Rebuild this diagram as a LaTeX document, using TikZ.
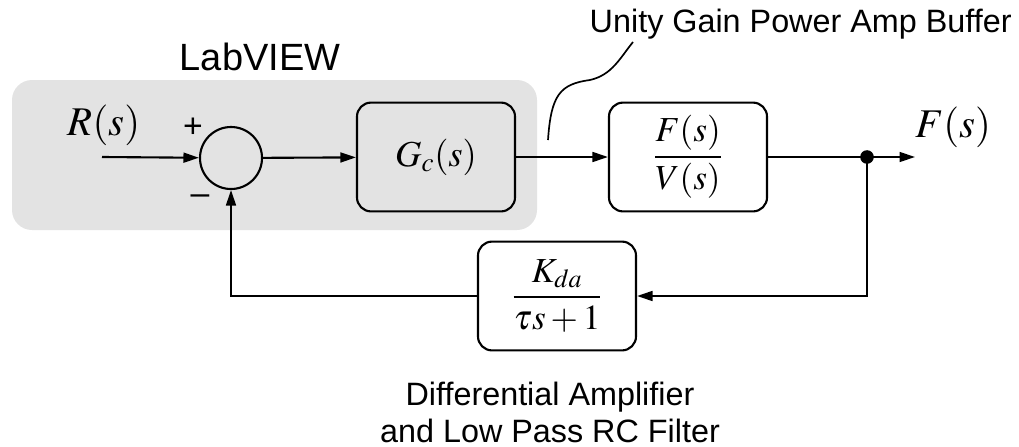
\documentclass[tikz,border=0pt]{standalone}
\usepackage{amsmath}
\usepackage{mathptmx}
\usepackage[no-math]{fontspec}
\setmainfont{Liberation Sans}
\usetikzlibrary{arrows.meta}

\newcommand{\sigsize}{\fontsize{29}{31}\selectfont}
\newcommand{\ctlsize}{\fontsize{26}{28}\selectfont}
\newcommand{\frsize}{\fontsize{25}{28}\selectfont}

\begin{document}
\begin{tikzpicture}[x=0.025cm,y=-0.025cm,line width=1.5pt,
  >={Triangle[length=11pt,width=7pt]},
  block/.style={draw,rounded corners=10pt,minimum width=3.95cm,minimum height=2.72cm,inner sep=0pt},
  lbl/.style={font=\fontsize{23}{26}\selectfont},
  sgn/.style={font=\fontsize{24}{24}\selectfont}]
  \useasboundingbox (0,0) rectangle (1019,447);

  % LabVIEW area
  \fill[gray!22,rounded corners=0.5cm] (12,80) rectangle (537,230);
  \node[lbl,font=\fontsize{27}{30}\selectfont] (lv) at (260,57) {LabVIEW};

  % blocks
  \node[draw,circle,minimum size=1.55cm,inner sep=0pt] (sum) at (231,158) {};
  \node[block] (gc) at (436,157) {\ctlsize $G_c(s)$};
  \node[block] (plant) at (688,157) {\frsize $\dfrac{F(s)}{V(s)}$};
  \node[block] (fb) at (557,296) {\frsize $\dfrac{K_{da}}{\tau s+1}$};

  % signals
  \node (r) at (104,125) {\sigsize $R(s)$};
  \node (f) at (953,127) {\sigsize $F(s)$};
  \node[sgn] (plus) at (193,128) {+};
  \node[sgn] (minus) at (200,200) {--};

  \coordinate (in) at (102,157);
  \coordinate (tap) at (867,157);
  \coordinate (out) at (915,157);

  \draw[->] (in) -- (sum);
  \draw[->] (sum) -- (gc);
  \draw[->] (gc) -- (plant);
  \draw (plant) -- (tap);
  \draw[->] (tap) -- (out);
  \fill (tap) circle (0.17cm);
  \draw[->] (tap) |- (fb);
  \draw[->] (fb) -| (sum);

  % annotations
  \node[lbl,anchor=base west] (amp) at (584,32) {Unity Gain Power Amp Buffer};
  \coordinate (buf) at (548,140);
  \coordinate (lead) at (633,42);
  \draw[line width=1.2pt] (buf) .. controls (551,95) and (560,84) .. (590,80)
    .. controls (612,75) and (620,58) .. (lead);
  \node[lbl,anchor=base] (diff) at (550,405) {Differential Amplifier};
  \node[lbl,anchor=base] (rc) at (550,442) {and Low Pass RC Filter};
\end{tikzpicture}
\end{document}
